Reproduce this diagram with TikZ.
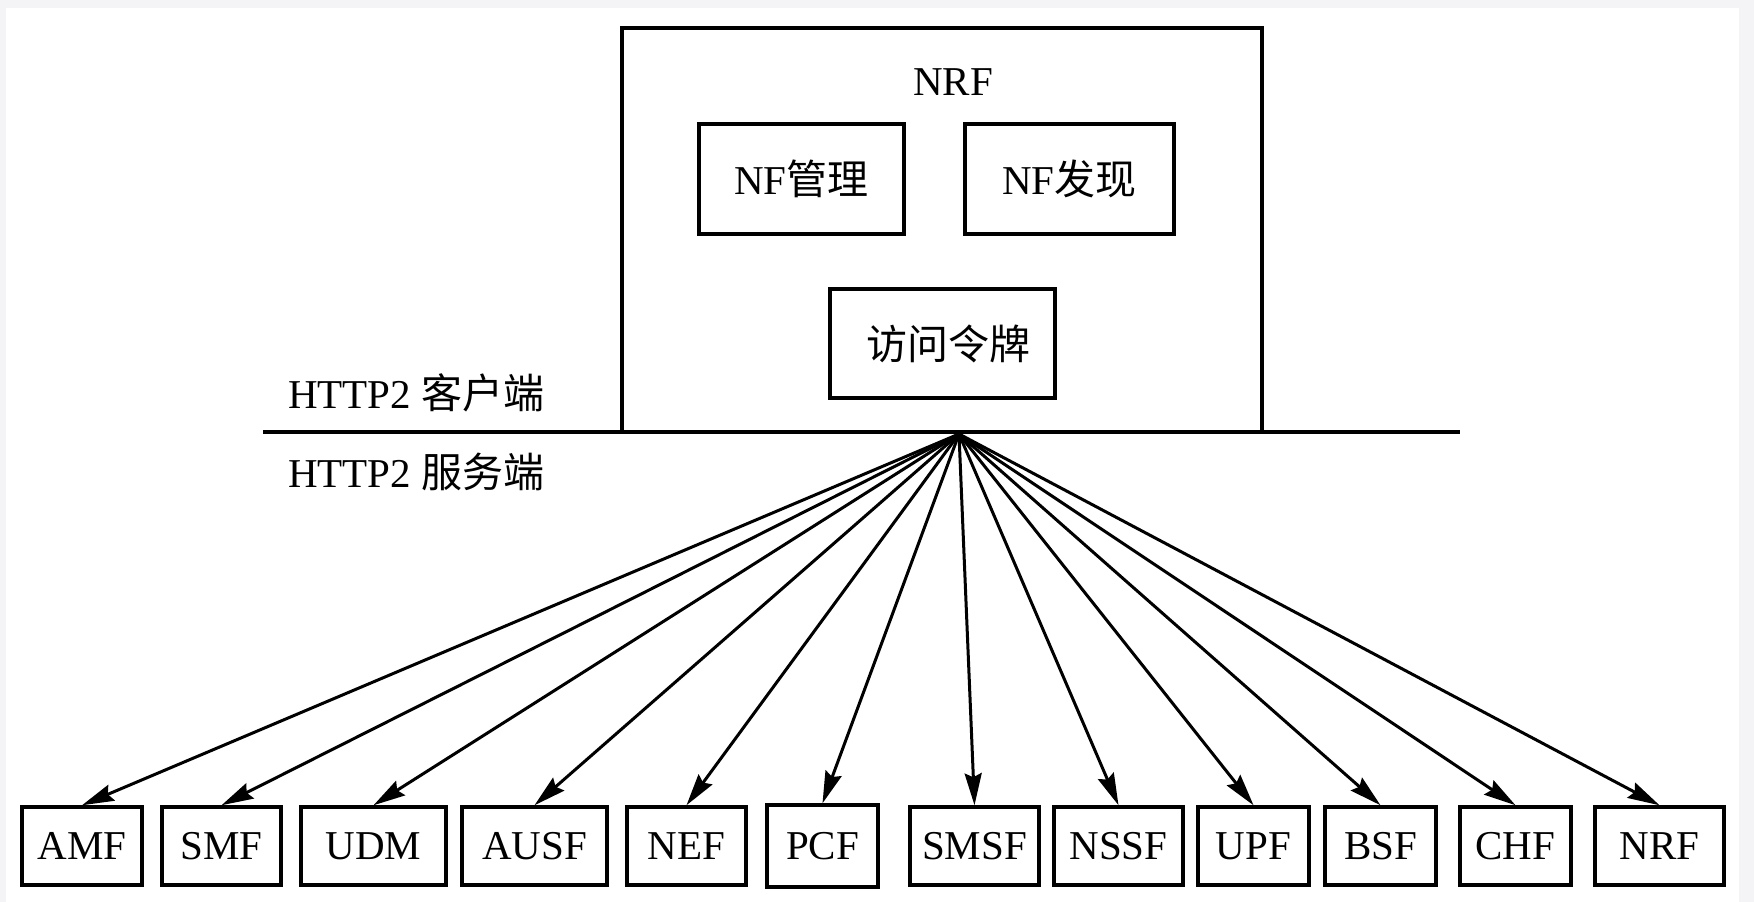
\documentclass[tikz,border=0pt]{standalone}
\usepackage{fontspec}
\setmainfont{Liberation Serif}
\newfontfamily\cjk{Noto Sans CJK SC}
\usetikzlibrary{arrows.meta}
\definecolor{framegray}{HTML}{F4F4F6}
\tikzset{
  box/.style={draw=black, line width=3.5pt, fill=white, inner sep=0pt, font=\fontsize{41}{41}\selectfont},
  lbl/.style={inner sep=0pt, font=\fontsize{41}{41}\selectfont},
  conn/.style={line width=3pt, -{Stealth[length=32pt,width=17pt,inset=4pt]}},
}
\begin{document}
\begin{tikzpicture}[x=1pt,y=-1pt]
\useasboundingbox (0,0) rectangle (1754,902);
\fill[framegray] (0,0) rectangle (1754,902);
\fill[white] (6,8) rectangle (1739,902);
% outer NRF box
\node[box, minimum width=640pt, minimum height=404pt] (outer) at (942,230) {};
\node[inner sep=0pt, font=\fontsize{41}{41}\selectfont] (nrftitle) at (953,82) {NRF};
\node[box, minimum width=205pt, minimum height=110pt] (mgmt) at (801.5,179) {NF{\cjk 管理}};
\node[box, minimum width=209pt, minimum height=110pt] (disc) at (1069.5,179) {NF{\cjk 发现}};
\node[box, minimum width=225pt, minimum height=109pt] (token) at (942.5,343.5) {\hspace*{12pt}{\cjk 访问令牌}};
% separator line
\coordinate (lineL) at (263,432);
\coordinate (lineR) at (1460,432);
\draw[line width=3.5pt] (lineL) -- (lineR);
\node[lbl, anchor=west] (client) at (288,393) {HTTP2\hspace{10pt}{\cjk 客户端}};
\node[lbl, anchor=west] (server) at (288,472) {HTTP2\hspace{10pt}{\cjk 服务端}};
\coordinate (o) at (959,434);
% bottom NF boxes
\foreach \n/\t/\cx/\w in {amf/AMF/82/120, smf/SMF/221.5/119, udm/UDM/373.5/145, ausf/AUSF/534.5/145, nef/NEF/686.5/119, smsf/SMSF/974.5/129, nssf/NSSF/1118.5/129, upf/UPF/1253.5/111, bsf/BSF/1380.5/111, chf/CHF/1515.5/111, nrf/NRF/1659.5/129}{
  \node[box, minimum width=\w pt, minimum height=78pt] (\n) at (\cx,846) {\t};
}
\node[box, minimum width=111pt, minimum height=82pt] (pcf) at (822.5,846) {PCF};
\foreach \n in {amf,smf,udm,ausf,nef,pcf,smsf,nssf,upf,bsf,chf,nrf}{
  \draw[conn] (o) -- (\n.north);
}
\end{tikzpicture}
\end{document}
